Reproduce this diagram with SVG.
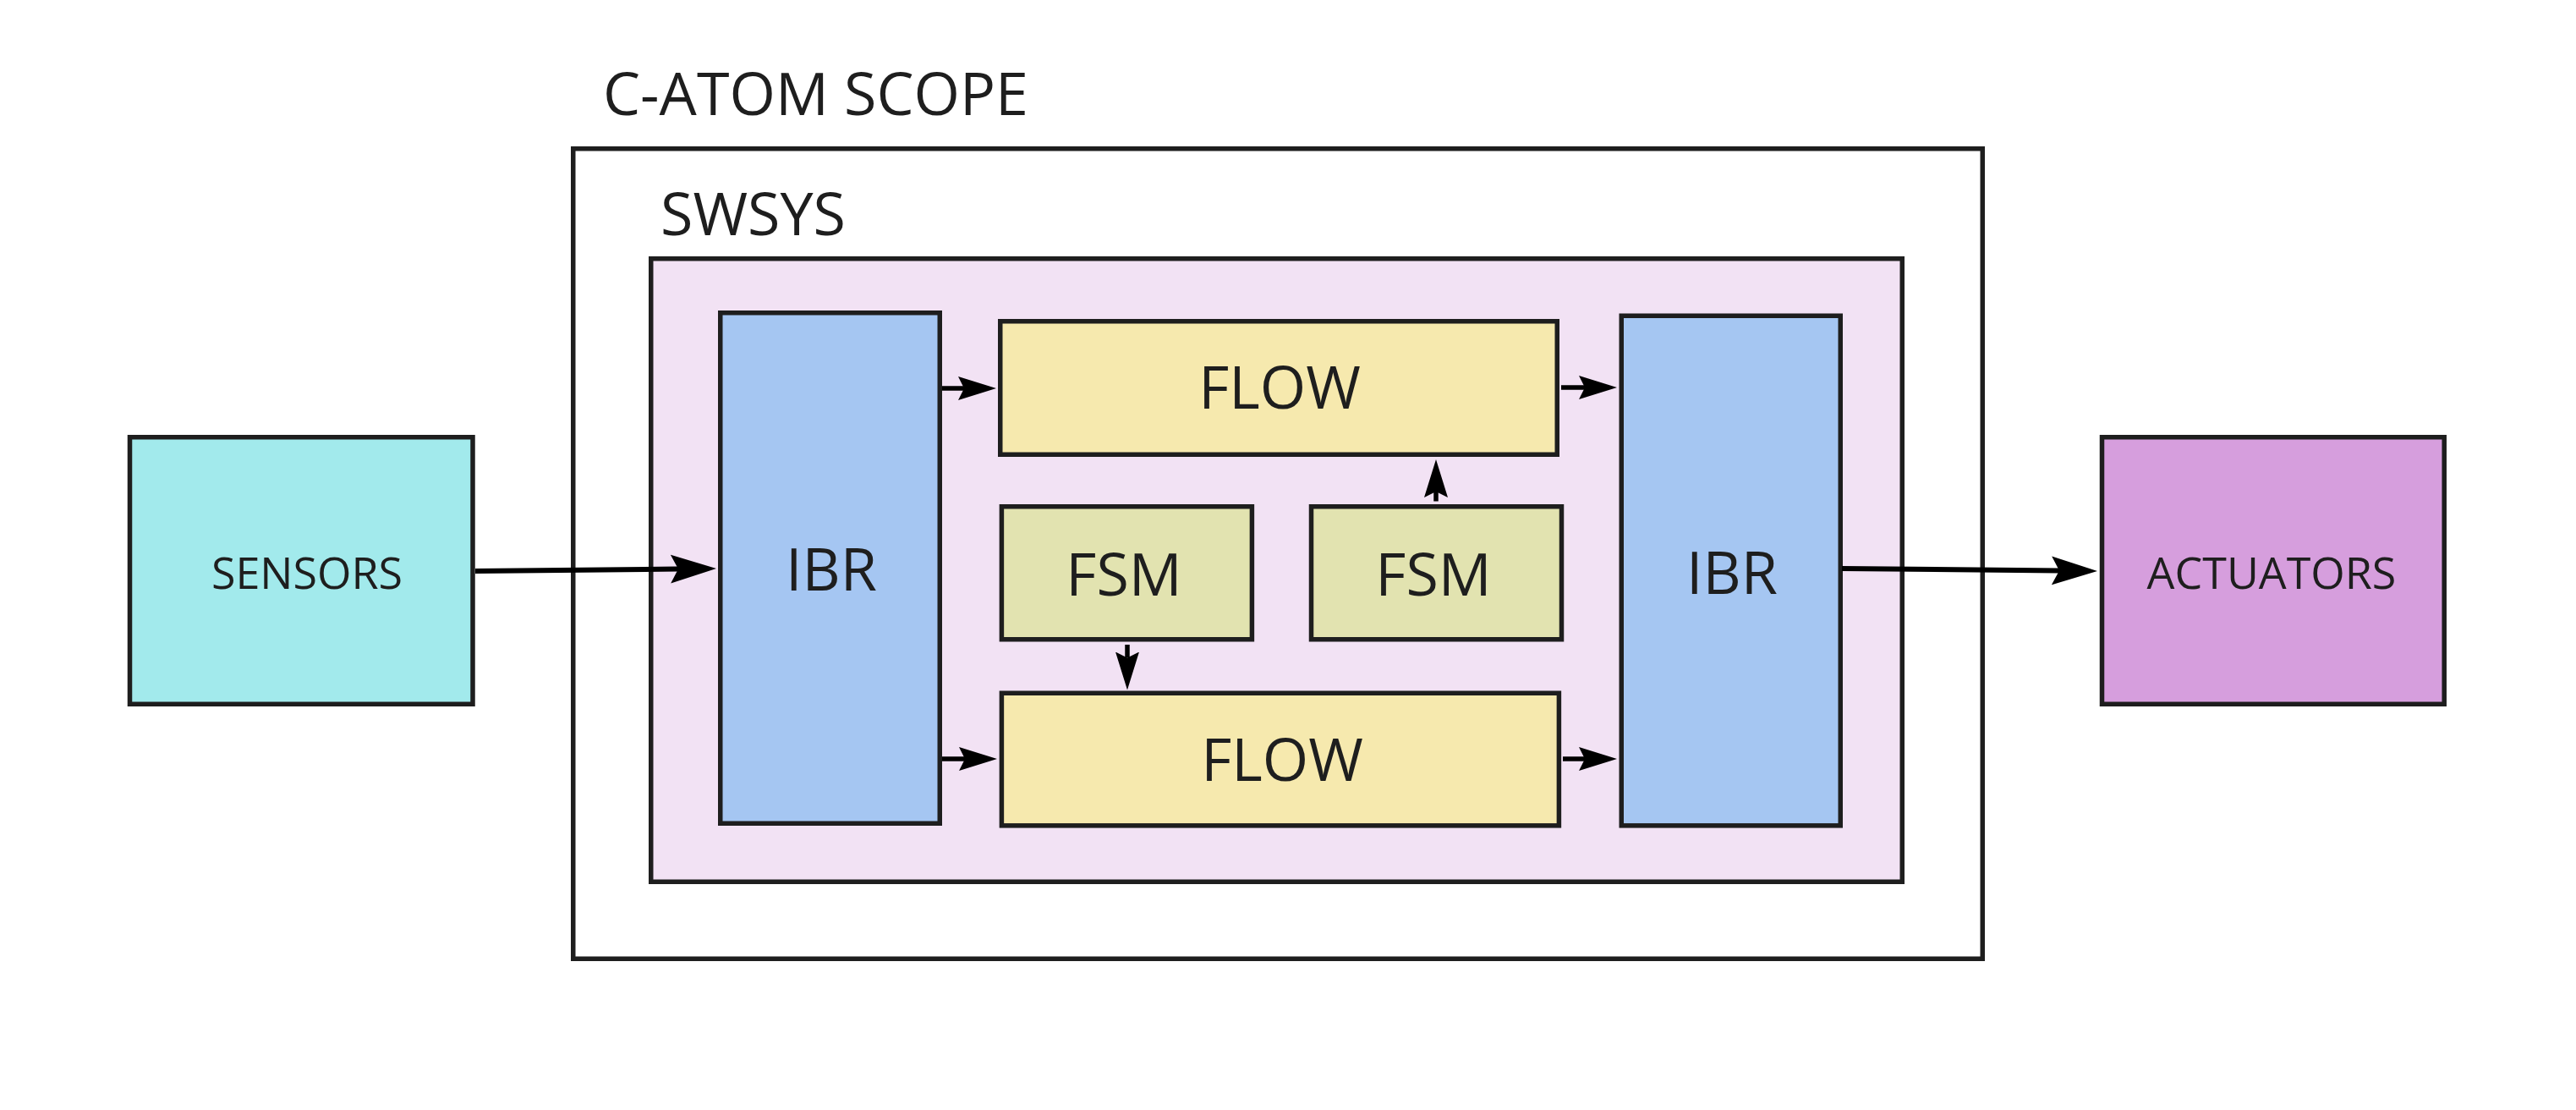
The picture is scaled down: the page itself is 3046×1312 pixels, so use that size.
<svg xmlns="http://www.w3.org/2000/svg" width="3046" height="1312" viewBox="0 0 3046 1312">
<style>
  .box { stroke: #1e1e1e; stroke-width: 5.5; }
  .lbl { font-family: "Open Sans", "Noto Sans", "Liberation Sans", sans-serif; fill: #1e1e1e; }
  .big { font-size: 70px; }
  .mid { font-size: 52px; }
  .c { text-anchor: middle; }
  .conn { stroke: #000; fill: none; }
  .thin { stroke-width: 5.5; marker-end: url(#arrS); }
  .thick { stroke-width: 6; marker-end: url(#arrL); }
</style>
<defs>
  <marker id="arrS" viewBox="0 0 46 30" refX="7" refY="15" markerWidth="46" markerHeight="30" markerUnits="userSpaceOnUse" orient="auto">
    <path d="M0,1 L45,15 L0,29 L7,15 Z" fill="#000"/>
  </marker>
  <marker id="arrL" viewBox="0 0 55 36" refX="9" refY="18" markerWidth="55" markerHeight="36" markerUnits="userSpaceOnUse" orient="auto">
    <path d="M0,1 L54,18 L0,35 L9,18 Z" fill="#000"/>
  </marker>
</defs>
<rect width="3046" height="1312" fill="#ffffff"/>

<g id="catom-scope">
  <rect class="box" x="677.75" y="175.75" width="1666.5" height="957.5" fill="#ffffff"/>
  <text class="lbl big" x="713" y="136">C-ATOM SCOPE</text>
</g>
<g id="swsys">
  <rect class="box" x="769.75" y="305.75" width="1479.5" height="736.5" fill="#f2e2f4"/>
  <text class="lbl big" x="781" y="278">SWSYS</text>
</g>

<g id="sensors">
  <rect class="box" x="153.5" y="516.75" width="405.5" height="315.5" fill="#a2eaec"/>
  <text class="lbl mid c" x="363" y="696">SENSORS</text>
</g>
<g id="actuators">
  <rect class="box" x="2485.5" y="516.75" width="404.7" height="315.5" fill="#d69edd"/>
  <text class="lbl mid c" x="2686" y="696">ACTUATORS</text>
</g>

<g id="ibr-in">
  <rect class="box" x="851.75" y="369.75" width="259.5" height="603.5" fill="#a5c6f2"/>
  <text class="lbl big c" x="983" y="698">IBR</text>
</g>
<g id="ibr-out">
  <rect class="box" x="1917.25" y="373.25" width="259" height="602.6" fill="#a5c6f2"/>
  <text class="lbl big c" x="2048" y="702">IBR</text>
</g>
<g id="flow-top">
  <rect class="box" x="1182.75" y="379.75" width="658.5" height="157.5" fill="#f6e9ae"/>
  <text class="lbl big c" x="1513" y="483">FLOW</text>
</g>
<g id="flow-bottom">
  <rect class="box" x="1184.4" y="819.25" width="659" height="156.6" fill="#f6e9ae"/>
  <text class="lbl big c" x="1516" y="923">FLOW</text>
</g>
<g id="fsm-left">
  <rect class="box" x="1184.4" y="598.75" width="296" height="157" fill="#e2e3b0"/>
  <text class="lbl big c" x="1329" y="704">FSM</text>
</g>
<g id="fsm-right">
  <rect class="box" x="1550.5" y="598.75" width="296" height="157" fill="#e2e3b0"/>
  <text class="lbl big c" x="1695" y="704">FSM</text>
</g>

<g id="connectors">
  <line class="conn thick" x1="562" y1="675" x2="802" y2="672.5"/>
  <line class="conn thin" x1="1114" y1="459" x2="1140" y2="459"/>
  <line class="conn thin" x1="1114" y1="897" x2="1141" y2="897"/>
  <line class="conn thin" x1="1846" y1="458" x2="1874" y2="458"/>
  <line class="conn thin" x1="1848" y1="897" x2="1874" y2="897"/>
  <line class="conn thin" x1="1698" y1="592.5" x2="1698" y2="581"/>
  <line class="conn thin" x1="1333" y1="762" x2="1333" y2="777.5"/>
  <line class="conn thick" x1="2178" y1="672" x2="2435" y2="674.5"/>
</g>
</svg>
